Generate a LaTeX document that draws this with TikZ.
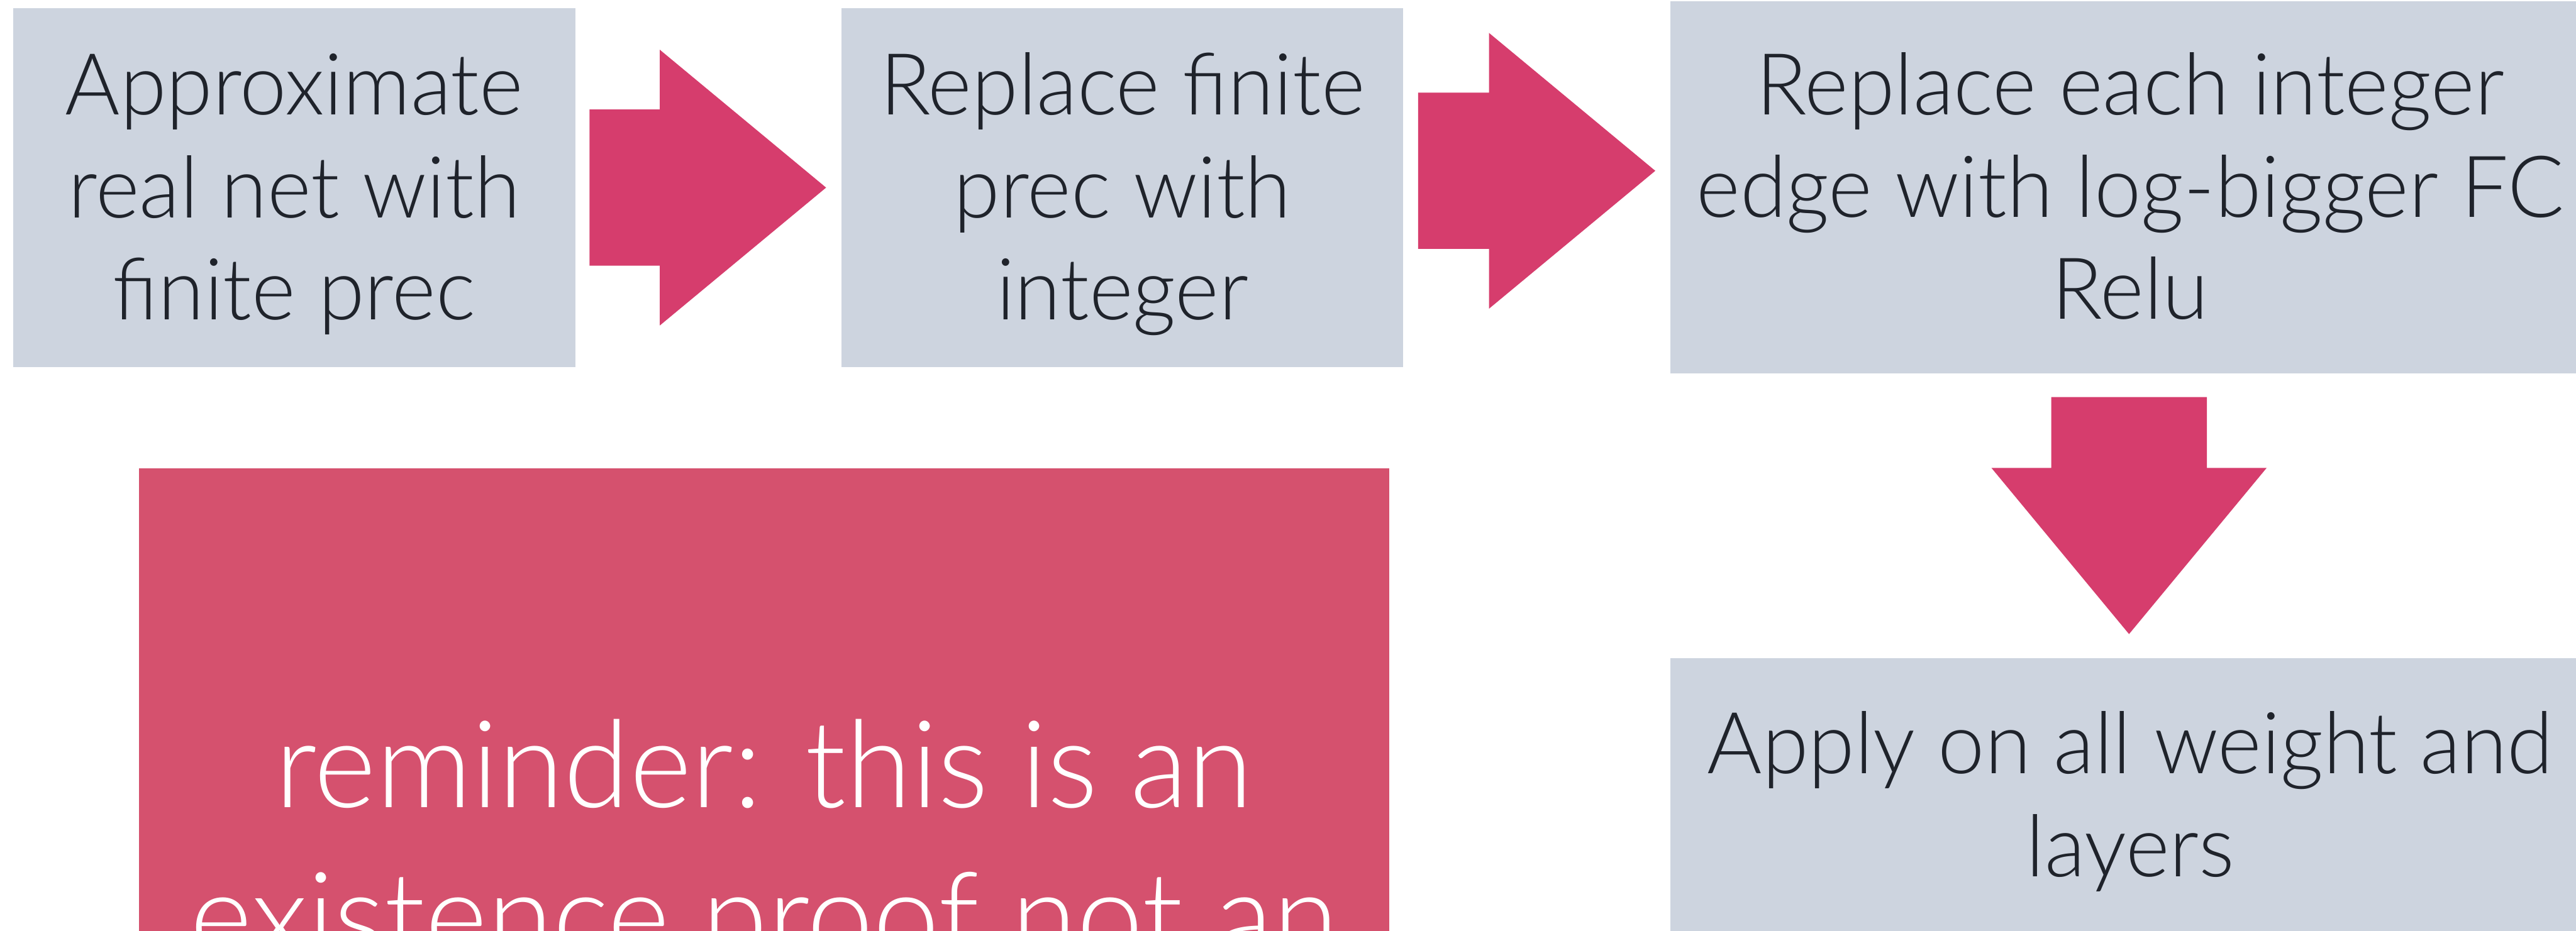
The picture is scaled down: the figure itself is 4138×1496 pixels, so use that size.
\documentclass[tikz,border=0pt]{standalone}
\usepackage{fontspec}
\IfFontExistsTF{Lato Light}
  {\setmainfont{Lato Light}[FakeStretch=0.98]}
  {\setmainfont{Lato}[FakeStretch=0.98]}
\definecolor{stepfill}{HTML}{CDD4DF}
\definecolor{arrowpink}{HTML}{D63D6D}
\definecolor{notefill}{HTML}{D5516E}
\definecolor{inkdark}{HTML}{1F232B}

\begin{document}
\begin{tikzpicture}[x=0.2pt,y=-0.2pt,
  stepbox/.style={fill=stepfill, draw=none, inner sep=0pt, outer sep=0pt},
  notebox/.style={fill=notefill, draw=none, inner sep=0pt, outer sep=0pt},
  steptext/.style={anchor=base, inner sep=0pt, text=inkdark,
    font=\fontsize{27.5pt}{33pt}\selectfont},
  notetext/.style={anchor=base, inner sep=0pt, text=white,
    font=\fontsize{39pt}{48pt}\selectfont},
  flowarrow/.style={fill=arrowpink, draw=none}
]
\useasboundingbox (0,0) rectangle (4138,1496);
\clip (0,0) rectangle (4138,1496);

% step boxes
\node[stepbox, minimum width=180.6pt, minimum height=115.4pt] (b1) at (472.5,301.5) {};
\node[stepbox, minimum width=180.4pt, minimum height=115.4pt] (b2) at (1803,301.5) {};
\node[stepbox, minimum width=295.6pt, minimum height=119.6pt] (b3) at (3422,301) {};
\node[stepbox, minimum width=295.6pt, minimum height=140.4pt] (b4) at (3422,1409) {};
% reminder box
\node[notebox, minimum width=401.8pt, minimum height=229.4pt] (note) at (1227.5,1326.5) {};

% labels of the steps
\node[steptext] (t1a) at (472.5,184) {Approximate};
\node[steptext] (t1b) at (472.5,350) {real net with};
\node[steptext] (t1c) at (472.5,514) {finite prec};

\node[steptext] (t2a) at (1803,184) {Replace finite};
\node[steptext] (t2b) at (1803,350) {prec with};
\node[steptext] (t2c) at (1803,514) {integer};

\node[steptext] (t3a) at (3422,184) {Replace each integer};
\node[steptext] (t3b) at (3422,349) {edge with log-bigger FC};
\node[steptext] (t3c) at (3422,513) {Relu};

\node[steptext] (t4a) at (3422,1243) {Apply on all weight and};
\node[steptext] (t4b) at (3422,1409) {layers};

\node[notetext] (n1) at (1227.5,1298) {reminder: this is an};
\node[notetext] (n2) at (1227.5,1541) {existence proof not an};

% block arrows between the steps
\fill[flowarrow] (947,176) -- (1060,176) -- (1060,80) -- (1327,301.5)
  -- (1060,523) -- (1060,427) -- (947,427) -- cycle;
\fill[flowarrow] (2278,149) -- (2392,149) -- (2392,53) -- (2659,274.5)
  -- (2392,496) -- (2392,400) -- (2278,400) -- cycle;
\fill[flowarrow] (3295,638) -- (3545,638) -- (3545,752) -- (3641,752)
  -- (3420,1019) -- (3199,752) -- (3295,752) -- cycle;
\end{tikzpicture}
\end{document}
